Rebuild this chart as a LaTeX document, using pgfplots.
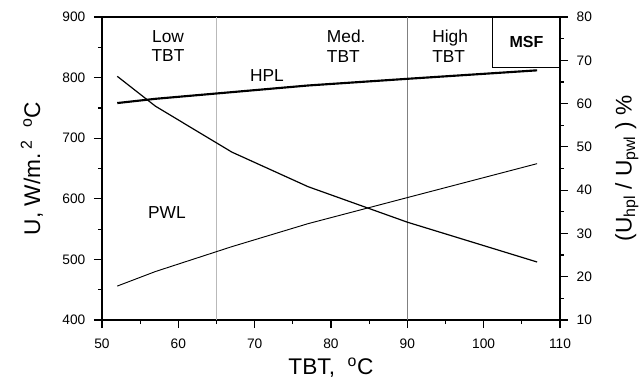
\documentclass[border=0pt]{standalone}
\usepackage{pgfplots}
\pgfplotsset{compat=1.18}
\usepackage{fontspec}
\setmainfont{Liberation Sans}
\begin{document}
\begin{tikzpicture}[x=1pt,y=1pt]
\pgfplotsset{
  common/.style={
    scale only axis, width=343.5pt, height=227.25pt,
    xmin=50, xmax=110,
    tick align=outside,
    major tick length=6pt, minor tick length=3pt,
    every tick/.style={black, line width=0.9pt},
    axis line style={line width=0.9pt},
    ticklabel style={font=\fontsize{10.3}{12}\selectfont},
    /pgf/number format/assume math mode=true,
    label style={font=\fontsize{17}{20}\selectfont},
  }
}
\begin{axis}[common,
  ymin=400, ymax=900,
  xtick={50,60,...,110}, minor xtick={55,65,...,105},
  ytick={400,500,...,900}, minor ytick={450,550,...,850},
  xtick pos=left, ytick pos=left,
  xticklabel style={yshift=-5pt},
  yticklabel style={xshift=-3pt},
  xlabel={TBT,~~\textsuperscript{o}C},
  ylabel={U, W/m.\,\textsuperscript{2}~~\textsuperscript{o}C},
  xlabel style={at={(axis description cs:0.5,-0.158)}, anchor=center},
  ylabel style={at={(axis description cs:-0.153,0.5)}, anchor=center},
  clip=false,
]
\addplot[gray!55, line width=0.9pt] coordinates {(65,400) (65,900)};
\addplot[gray, line width=0.6pt] coordinates {(90,400) (90,900)};
\addplot[black, line width=1.6pt] coordinates {
 (52,758) (57,765) (67,776) (77,787) (90,798) (107,812)};
\addplot[black, line width=0.7pt] coordinates {
 (52,456) (57,480) (67,521) (77,559) (90,602) (107,658)};
\draw[line width=0.7pt, fill=white] (axis cs:101.2,817.5) rectangle (axis cs:110,900);
\node[font=\fontsize{12}{14}\selectfont\bfseries] at (axis cs:105.6,858.5) {MSF};
\node[font=\fontsize{13}{14.5}\selectfont, align=center] at (axis cs:58.65,852) {Low\\TBT};
\node[font=\fontsize{13}{14.5}\selectfont, align=left] at (axis cs:82.0,852) {Med.\\TBT};
\node[font=\fontsize{13}{14.5}\selectfont, align=left] at (axis cs:95.6,852) {High\\TBT};
\node[font=\fontsize{13}{14.5}\selectfont] at (axis cs:71.6,804) {HPL};
\node[font=\fontsize{13}{14.5}\selectfont] at (axis cs:58.5,578) {PWL};
\end{axis}
\begin{axis}[common,
  ymin=10, ymax=80,
  axis x line=none,
  axis y line*=right,
  ytick={10,20,...,80}, minor ytick={15,25,...,75},
  yticklabel style={xshift=3pt},
  ylabel={(U\textsubscript{hpl} / U\textsubscript{pwl} )~\%},
  ylabel style={at={(axis description cs:1.146,0.5)}, anchor=center, rotate=0},
]
\addplot[black, line width=0.9pt] coordinates {
 (52,66.3) (57,59.4) (67,48.8) (77,40.8) (90,32.6) (107,23.4)};
\end{axis}
\pgfresetboundingbox
\path[use as bounding box] (-76.5pt,-45pt) rectangle (403.5pt,240pt);
\end{tikzpicture}
\end{document}
